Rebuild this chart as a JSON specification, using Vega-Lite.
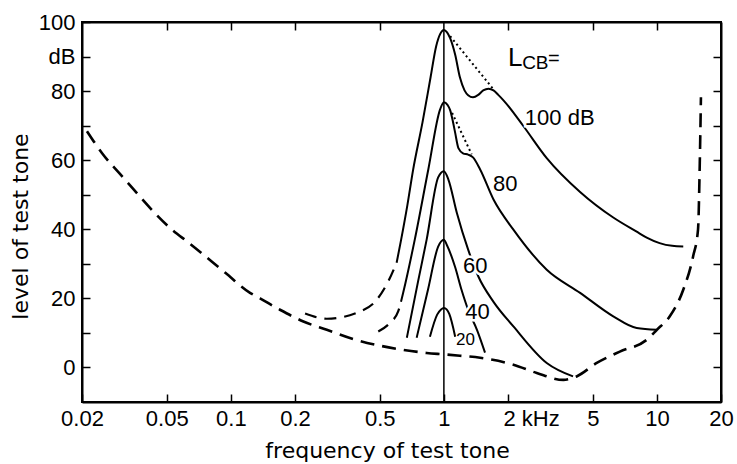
{
  "$schema": "https://vega.github.io/schema/vega-lite/v6.json",
  "width": 639,
  "height": 380,
  "autosize": {"type": "none"},
  "padding": {"left": 82, "top": 22, "right": 16, "bottom": 62},
  "background": "white",
  "config": {
    "view": {"stroke": "black", "strokeWidth": 2},
    "axis": {
      "domainColor": "black", "domainWidth": 2,
      "tickColor": "black", "tickWidth": 1.5, "tickSize": -8,
      "labelColor": "black", "titleColor": "black", "grid": false,
      "labelFont": "Liberation Sans, sans-serif",
      "labelFontSize": 22,
      "titleFont": "DejaVu Sans", "titleFontSize": 22, "titleFontWeight": "normal",
      "labelFlush": false, "labelOverlap": false, "labelBound": false
    }
  },
  "datasets": {
    "curves": [
      {"series": "quiet", "kind": "threshold in quiet", "f": 0.0211, "db": 68.4},
      {"series": "quiet", "kind": "threshold in quiet", "f": 0.0248, "db": 62.1},
      {"series": "quiet", "kind": "threshold in quiet", "f": 0.0308, "db": 55.4},
      {"series": "quiet", "kind": "threshold in quiet", "f": 0.0529, "db": 39.9},
      {"series": "quiet", "kind": "threshold in quiet", "f": 0.0634, "db": 36.1},
      {"series": "quiet", "kind": "threshold in quiet", "f": 0.0942, "db": 27.4},
      {"series": "quiet", "kind": "threshold in quiet", "f": 0.123, "db": 21.6},
      {"series": "quiet", "kind": "threshold in quiet", "f": 0.137, "db": 20.0},
      {"series": "quiet", "kind": "threshold in quiet", "f": 0.17, "db": 16.7},
      {"series": "quiet", "kind": "threshold in quiet", "f": 0.219, "db": 13.3},
      {"series": "quiet", "kind": "threshold in quiet", "f": 0.282, "db": 10.9},
      {"series": "quiet", "kind": "threshold in quiet", "f": 0.376, "db": 8.2},
      {"series": "quiet", "kind": "threshold in quiet", "f": 0.501, "db": 6.3},
      {"series": "quiet", "kind": "threshold in quiet", "f": 0.644, "db": 5.1},
      {"series": "quiet", "kind": "threshold in quiet", "f": 0.83, "db": 4.2},
      {"series": "quiet", "kind": "threshold in quiet", "f": 1.0, "db": 3.8},
      {"series": "quiet", "kind": "threshold in quiet", "f": 1.19, "db": 3.4},
      {"series": "quiet", "kind": "threshold in quiet", "f": 1.48, "db": 2.8},
      {"series": "quiet", "kind": "threshold in quiet", "f": 2.12, "db": 0.8},
      {"series": "quiet", "kind": "threshold in quiet", "f": 2.73, "db": -1.6},
      {"series": "quiet", "kind": "threshold in quiet", "f": 3.64, "db": -3.6},
      {"series": "quiet", "kind": "threshold in quiet", "f": 4.2, "db": -2.6},
      {"series": "quiet", "kind": "threshold in quiet", "f": 5.22, "db": 1.3},
      {"series": "quiet", "kind": "threshold in quiet", "f": 6.7, "db": 4.6},
      {"series": "quiet", "kind": "threshold in quiet", "f": 8.96, "db": 8.0},
      {"series": "quiet", "kind": "threshold in quiet", "f": 10.0, "db": 10.9},
      {"series": "quiet", "kind": "threshold in quiet", "f": 11.5, "db": 14.8},
      {"series": "quiet", "kind": "threshold in quiet", "f": 13.3, "db": 22.5},
      {"series": "quiet", "kind": "threshold in quiet", "f": 14.8, "db": 32.2},
      {"series": "quiet", "kind": "threshold in quiet", "f": 15.6, "db": 39.9},
      {"series": "quiet", "kind": "threshold in quiet", "f": 15.9, "db": 59.2},
      {"series": "quiet", "kind": "threshold in quiet", "f": 16.1, "db": 78.2},

      {"series": "100", "kind": "masked", "f": 0.6, "db": 30.3},
      {"series": "100", "kind": "masked", "f": 0.63, "db": 37},
      {"series": "100", "kind": "masked", "f": 0.674, "db": 47},
      {"series": "100", "kind": "masked", "f": 0.717, "db": 57.2},
      {"series": "100", "kind": "masked", "f": 0.794, "db": 71},
      {"series": "100", "kind": "masked", "f": 0.866, "db": 84},
      {"series": "100", "kind": "masked", "f": 0.92, "db": 93},
      {"series": "100", "kind": "masked", "f": 0.96, "db": 96.5},
      {"series": "100", "kind": "masked", "f": 1.0, "db": 97.7},
      {"series": "100", "kind": "masked", "f": 1.035, "db": 97},
      {"series": "100", "kind": "masked", "f": 1.07, "db": 95.3},
      {"series": "100", "kind": "masked", "f": 1.13, "db": 90.5},
      {"series": "100", "kind": "masked", "f": 1.19, "db": 83.9},
      {"series": "100", "kind": "masked", "f": 1.25, "db": 80.2},
      {"series": "100", "kind": "masked", "f": 1.3, "db": 78.8},
      {"series": "100", "kind": "masked", "f": 1.37, "db": 78.2},
      {"series": "100", "kind": "masked", "f": 1.45, "db": 78.9},
      {"series": "100", "kind": "masked", "f": 1.53, "db": 80.2},
      {"series": "100", "kind": "masked", "f": 1.62, "db": 80.7},
      {"series": "100", "kind": "masked", "f": 1.71, "db": 80.2},
      {"series": "100", "kind": "masked", "f": 1.8, "db": 78.9},
      {"series": "100", "kind": "masked", "f": 1.9, "db": 77.4},
      {"series": "100", "kind": "masked", "f": 2.36, "db": 69.9},
      {"series": "100", "kind": "masked", "f": 3.04, "db": 60.6},
      {"series": "100", "kind": "masked", "f": 4.36, "db": 50.8},
      {"series": "100", "kind": "masked", "f": 6.24, "db": 43.4},
      {"series": "100", "kind": "masked", "f": 8.04, "db": 39.3},
      {"series": "100", "kind": "masked", "f": 8.96, "db": 37.6},
      {"series": "100", "kind": "masked", "f": 10.3, "db": 36.0},
      {"series": "100", "kind": "masked", "f": 11.8, "db": 35.2},
      {"series": "100", "kind": "masked", "f": 13.3, "db": 35.0},

      {"series": "100x", "kind": "extrapolated", "f": 0.223, "db": 15.6},
      {"series": "100x", "kind": "extrapolated", "f": 0.282, "db": 14.1},
      {"series": "100x", "kind": "extrapolated", "f": 0.404, "db": 16.2},
      {"series": "100x", "kind": "extrapolated", "f": 0.484, "db": 19.6},
      {"series": "100x", "kind": "extrapolated", "f": 0.548, "db": 24.9},
      {"series": "100x", "kind": "extrapolated", "f": 0.6, "db": 30.3},

      {"series": "100d", "kind": "without beats", "f": 1.07, "db": 95.9},
      {"series": "100d", "kind": "without beats", "f": 1.71, "db": 80.5},

      {"series": "80", "kind": "masked", "f": 0.629, "db": 19.0},
      {"series": "80", "kind": "masked", "f": 0.644, "db": 21.6},
      {"series": "80", "kind": "masked", "f": 0.73, "db": 37},
      {"series": "80", "kind": "masked", "f": 0.845, "db": 57.3},
      {"series": "80", "kind": "masked", "f": 0.96, "db": 74.7},
      {"series": "80", "kind": "masked", "f": 1.0, "db": 76.8},
      {"series": "80", "kind": "masked", "f": 1.04, "db": 76.0},
      {"series": "80", "kind": "masked", "f": 1.07, "db": 74.5},
      {"series": "80", "kind": "masked", "f": 1.1, "db": 71.5},
      {"series": "80", "kind": "masked", "f": 1.13, "db": 67.9},
      {"series": "80", "kind": "masked", "f": 1.17, "db": 63.5},
      {"series": "80", "kind": "masked", "f": 1.23, "db": 62.0},
      {"series": "80", "kind": "masked", "f": 1.3, "db": 61.6},
      {"series": "80", "kind": "masked", "f": 1.37, "db": 60.8},
      {"series": "80", "kind": "masked", "f": 1.48, "db": 57.3},
      {"series": "80", "kind": "masked", "f": 1.71, "db": 48.6},
      {"series": "80", "kind": "masked", "f": 2.12, "db": 39.9},
      {"series": "80", "kind": "masked", "f": 3.04, "db": 28.3},
      {"series": "80", "kind": "masked", "f": 4.36, "db": 21.6},
      {"series": "80", "kind": "masked", "f": 6.24, "db": 14.8},
      {"series": "80", "kind": "masked", "f": 8.04, "db": 11.4},
      {"series": "80", "kind": "masked", "f": 10.0, "db": 10.9},

      {"series": "80x", "kind": "extrapolated", "f": 0.492, "db": 10.4},
      {"series": "80x", "kind": "extrapolated", "f": 0.558, "db": 12.9},
      {"series": "80x", "kind": "extrapolated", "f": 0.61, "db": 16.2},
      {"series": "80x", "kind": "extrapolated", "f": 0.629, "db": 19.0},

      {"series": "80d", "kind": "without beats", "f": 1.093, "db": 73.7},
      {"series": "80d", "kind": "without beats", "f": 1.35, "db": 61.7},

      {"series": "60", "kind": "masked", "f": 0.67, "db": 8.6},
      {"series": "60", "kind": "masked", "f": 0.757, "db": 25},
      {"series": "60", "kind": "masked", "f": 0.83, "db": 37},
      {"series": "60", "kind": "masked", "f": 0.94, "db": 55},
      {"series": "60", "kind": "masked", "f": 1.0, "db": 56.8},
      {"series": "60", "kind": "masked", "f": 1.05, "db": 54.4},
      {"series": "60", "kind": "masked", "f": 1.15, "db": 44.8},
      {"series": "60", "kind": "masked", "f": 1.3, "db": 34.1},
      {"series": "60", "kind": "masked", "f": 1.45, "db": 26.4},
      {"series": "60", "kind": "masked", "f": 1.71, "db": 19.0},
      {"series": "60", "kind": "masked", "f": 2.12, "db": 11.9},
      {"series": "60", "kind": "masked", "f": 3.04, "db": 1.3},
      {"series": "60", "kind": "masked", "f": 4.04, "db": -2.6},

      {"series": "40", "kind": "masked", "f": 0.745, "db": 8.6},
      {"series": "40", "kind": "masked", "f": 0.842, "db": 22.5},
      {"series": "40", "kind": "masked", "f": 0.94, "db": 35},
      {"series": "40", "kind": "masked", "f": 1.0, "db": 37},
      {"series": "40", "kind": "masked", "f": 1.03, "db": 35.6},
      {"series": "40", "kind": "masked", "f": 1.13, "db": 29},
      {"series": "40", "kind": "masked", "f": 1.21, "db": 22.5},
      {"series": "40", "kind": "masked", "f": 1.3, "db": 16.7},
      {"series": "40", "kind": "masked", "f": 1.43, "db": 10.9},
      {"series": "40", "kind": "masked", "f": 1.56, "db": 4.3},

      {"series": "20", "kind": "masked", "f": 0.86, "db": 8.9},
      {"series": "20", "kind": "masked", "f": 0.93, "db": 15.3},
      {"series": "20", "kind": "masked", "f": 0.97, "db": 16.8},
      {"series": "20", "kind": "masked", "f": 1.0, "db": 17.2},
      {"series": "20", "kind": "masked", "f": 1.03, "db": 16.8},
      {"series": "20", "kind": "masked", "f": 1.06, "db": 15.5},
      {"series": "20", "kind": "masked", "f": 1.13, "db": 8.9}
    ],
    "testtone": [{"f": 1}],
    "levels": [
      {"f": 2.4, "db": 72.1, "text": "100 dB"},
      {"f": 1.7, "db": 53.0, "text": "80"},
      {"f": 1.23, "db": 29.3, "text": "60"},
      {"f": 1.26, "db": 16.0, "text": "40"}
    ],
    "levelsSmall": [{"f": 1.14, "db": 7.9, "text": "20"}],
    "lcbL": [{"f": 2.0, "db": 87.2, "text": "L"}],
    "lcbSub": [{"f": 2.33, "db": 86.3, "text": "CB"}],
    "lcbEq": [{"f": 3.08, "db": 89.2, "text": "="}]
  },
  "layer": [
    {
      "data": {"name": "testtone"},
      "mark": {"type": "rule", "color": "black", "strokeWidth": 1.5},
      "encoding": {
        "x": {"field": "f", "type": "quantitative", "scale": {"type": "log", "domain": [0.02, 20], "nice": false}, "axis": null}
      }
    },
    {
      "data": {"name": "curves"},
      "transform": [{"filter": "datum.kind == 'threshold in quiet'"}],
      "mark": {"type": "line", "color": "black", "strokeWidth": 2.6, "strokeDash": [14, 8], "interpolate": "monotone"},
      "encoding": {
        "x": {
          "field": "f", "type": "quantitative",
          "scale": {"type": "log", "domain": [0.02, 20], "nice": false},
          "axis": {
            "orient": "bottom",
            "values": [0.02, 0.05, 0.1, 0.2, 0.5, 1, 2, 5, 10, 20],
            "labelExpr": "datum.value == 2 ? '2 kHz' : '' + datum.value",
            "labelAlign": {"condition": {"test": "datum.value == 2", "value": "left"}, "value": "center"},
            "labelOffset": {"condition": {"test": "datum.value == 2", "value": -5}, "value": 0},
            "labelPadding": 14,
            "title": "frequency of test tone",
            "titlePadding": 11,
            "titleX": 305
          }
        },
        "y": {
          "field": "db", "type": "quantitative",
          "scale": {"domain": [-10, 100], "nice": false, "zero": false},
          "axis": {
            "orient": "left",
            "values": [0, 10, 20, 30, 40, 50, 60, 70, 80, 90, 100],
            "labelExpr": "datum.value == 90 ? 'dB' : (datum.value % 20 == 0 ? '' + datum.value : '')",
            "labelPadding": 15,
            "title": "level of test tone",
            "titlePadding": 6,
            "titleY": 204
          }
        },
        "detail": {"field": "series"}
      }
    },
    {
      "data": {"name": "curves"},
      "transform": [{"filter": "datum.kind == 'masked'"}],
      "mark": {"type": "line", "color": "black", "strokeWidth": 2, "interpolate": "monotone"},
      "encoding": {
        "x": {
          "field": "f", "type": "quantitative",
          "scale": {"type": "log", "domain": [0.02, 20], "nice": false},
          "axis": {"orient": "top", "values": [0.05, 0.1, 0.2, 0.5, 2, 5, 10], "labels": false, "title": null}
        },
        "y": {
          "field": "db", "type": "quantitative",
          "scale": {"domain": [-10, 100], "nice": false, "zero": false},
          "axis": {"orient": "right", "values": [0, 10, 20, 30, 40, 50, 60, 70, 80, 90], "labels": false, "title": null}
        },
        "detail": {"field": "series"}
      }
    },
    {
      "data": {"name": "curves"},
      "transform": [{"filter": "datum.kind == 'extrapolated'"}],
      "mark": {"type": "line", "color": "black", "strokeWidth": 2.2, "strokeDash": [12, 8], "interpolate": "monotone"},
      "encoding": {
        "x": {"field": "f", "type": "quantitative", "scale": {"type": "log", "domain": [0.02, 20], "nice": false}, "axis": null},
        "y": {"field": "db", "type": "quantitative", "scale": {"domain": [-10, 100], "nice": false, "zero": false}, "axis": null},
        "detail": {"field": "series"}
      }
    },
    {
      "data": {"name": "curves"},
      "transform": [{"filter": "datum.kind == 'without beats'"}],
      "mark": {"type": "line", "color": "black", "strokeWidth": 2, "strokeDash": [2, 3]},
      "encoding": {
        "x": {"field": "f", "type": "quantitative", "scale": {"type": "log", "domain": [0.02, 20], "nice": false}, "axis": null},
        "y": {"field": "db", "type": "quantitative", "scale": {"domain": [-10, 100], "nice": false, "zero": false}, "axis": null},
        "detail": {"field": "series"}
      }
    },
    {
      "data": {"name": "levels"},
      "mark": {"type": "text", "align": "left", "baseline": "middle", "font": "Liberation Sans, sans-serif", "fontSize": 22, "stroke": "white", "strokeWidth": 5, "fill": "white"},
      "encoding": {
        "x": {"field": "f", "type": "quantitative", "scale": {"type": "log", "domain": [0.02, 20], "nice": false}, "axis": null},
        "y": {"field": "db", "type": "quantitative", "scale": {"domain": [-10, 100], "nice": false, "zero": false}, "axis": null},
        "text": {"field": "text"}
      }
    },
    {
      "data": {"name": "levels"},
      "mark": {"type": "text", "align": "left", "baseline": "middle", "font": "Liberation Sans, sans-serif", "fontSize": 22, "fill": "black"},
      "encoding": {
        "x": {"field": "f", "type": "quantitative", "scale": {"type": "log", "domain": [0.02, 20], "nice": false}, "axis": null},
        "y": {"field": "db", "type": "quantitative", "scale": {"domain": [-10, 100], "nice": false, "zero": false}, "axis": null},
        "text": {"field": "text"}
      }
    },
    {
      "data": {"name": "levelsSmall"},
      "mark": {"type": "text", "align": "left", "baseline": "middle", "font": "Liberation Sans, sans-serif", "fontSize": 17, "fill": "black"},
      "encoding": {
        "x": {"field": "f", "type": "quantitative", "scale": {"type": "log", "domain": [0.02, 20], "nice": false}, "axis": null},
        "y": {"field": "db", "type": "quantitative", "scale": {"domain": [-10, 100], "nice": false, "zero": false}, "axis": null},
        "text": {"field": "text"}
      }
    },
    {
      "data": {"name": "lcbL"},
      "mark": {"type": "text", "align": "left", "baseline": "alphabetic", "font": "Liberation Sans, sans-serif", "fontSize": 26, "fill": "black"},
      "encoding": {
        "x": {"field": "f", "type": "quantitative", "scale": {"type": "log", "domain": [0.02, 20], "nice": false}, "axis": null},
        "y": {"field": "db", "type": "quantitative", "scale": {"domain": [-10, 100], "nice": false, "zero": false}, "axis": null},
        "text": {"field": "text"}
      }
    },
    {
      "data": {"name": "lcbSub"},
      "mark": {"type": "text", "align": "left", "baseline": "alphabetic", "font": "Liberation Sans, sans-serif", "fontSize": 19, "fill": "black"},
      "encoding": {
        "x": {"field": "f", "type": "quantitative", "scale": {"type": "log", "domain": [0.02, 20], "nice": false}, "axis": null},
        "y": {"field": "db", "type": "quantitative", "scale": {"domain": [-10, 100], "nice": false, "zero": false}, "axis": null},
        "text": {"field": "text"}
      }
    },
    {
      "data": {"name": "lcbEq"},
      "mark": {"type": "text", "align": "left", "baseline": "middle", "font": "Liberation Sans, sans-serif", "fontSize": 20, "fill": "black"},
      "encoding": {
        "x": {"field": "f", "type": "quantitative", "scale": {"type": "log", "domain": [0.02, 20], "nice": false}, "axis": null},
        "y": {"field": "db", "type": "quantitative", "scale": {"domain": [-10, 100], "nice": false, "zero": false}, "axis": null},
        "text": {"field": "text"}
      }
    }
  ],
  "resolve": {"axis": {"x": "independent", "y": "independent"}}
}
